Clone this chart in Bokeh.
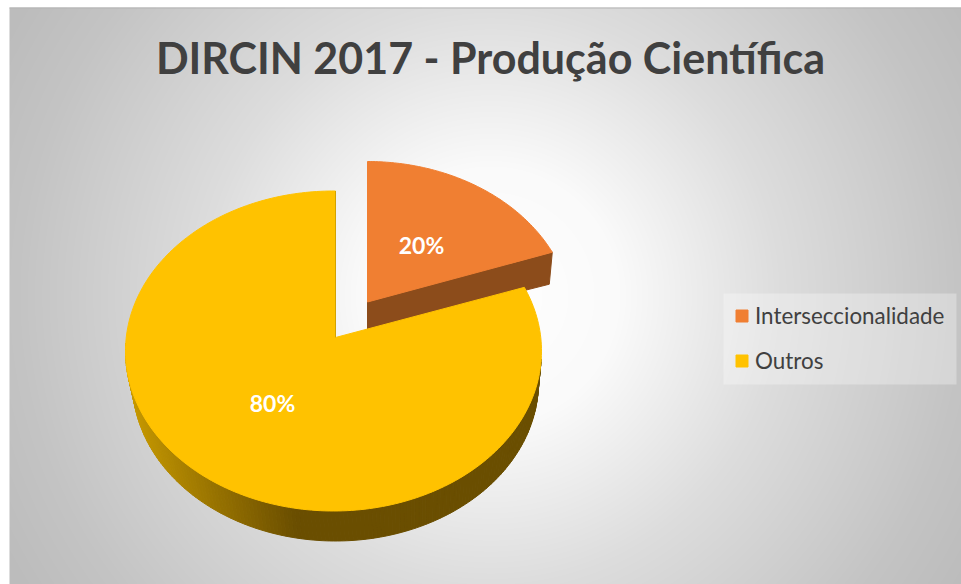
import numpy as np
from bokeh.plotting import figure
from bokeh.models import Range1d, Legend, LegendItem
from bokeh.core.properties import value
from bokeh.embed import file_html
from bokeh.resources import INLINE

title_text = "DIRCIN 2017 - Produção Científica"
categories = ["Interseccionalidade", "Outros"]
shares = [20, 80]
top_colors = ["#F07F32", "#FFC200"]
side_color_orange = "#8C4C1B"
side_light = np.array([200, 154, 0])
side_dark = np.array([106, 78, 0])

W, H = 961, 584


def sy(y):
    return H - np.asarray(y, dtype=float)


p = figure(width=W, height=H, x_range=Range1d(0, W), y_range=Range1d(0, H),
           x_axis_location=None, y_axis_location=None, toolbar_location=None,
           output_backend="svg", min_border=0, outline_line_color=None,
           background_fill_color="white", border_fill_color="white")
p.grid.visible = False

# radial background
gx0, gy0, gw, gh = 9, 7, 952, 577
xs = np.arange(gw) + gx0
ys = gy0 + gh - 1 - np.arange(gh)
XX, YY = np.meshgrid(xs, ys)
dist = np.hypot(XX - 490, YY - 295)
shade = np.interp(dist, [0, 130, 289, 471, 555], [255, 250, 221, 196, 188]).astype(np.uint32)
img = (255 << 24) | (shade << 16) | (shade << 8) | shade
p.image_rgba(image=[img.astype(np.uint32)], x=gx0, y=float(sy(gy0 + gh)), dw=gw, dh=gh)
p.line([gx0, gx0 + gw], [float(sy(7.5))] * 2, line_color="#b4b4b4", line_width=1)


def rim(t, apex, centre, a, b, bdir=170.0):
    """Point of the projected disc rim seen from the apex at pie angle t (clockwise from top)."""
    dx, dy = a * np.sin(t), -bdir * np.cos(t)
    ox, oy = (apex[0] - centre[0]) / a, (apex[1] - centre[1]) / b
    ux, uy = dx / a, dy / b
    A = ux ** 2 + uy ** 2
    B = 2 * (ox * ux + oy * uy)
    C = ox ** 2 + oy ** 2 - 1
    s = (-B + np.sqrt(B ** 2 - 4 * A * C)) / (2 * A)
    return apex[0] + s * dx, apex[1] + s * dy


fractions = np.array(shares) / sum(shares)
edges = np.concatenate([[0], np.cumsum(fractions)]) * 2 * np.pi

# geometry of the two exploded slices
o_apex, o_centre = (367.0, 301.5), (367.0, 321.0)
y_apex, y_centre = (335.0, 337.0), (333.0, 350.5)
RA, RB, DEPTH = 208.0, 160.0, 31.0
RA_ORANGE = 205.0

# yellow side wall, shaded in strips
ts = np.linspace(np.pi / 2 + 0.05, 3 * np.pi / 2 + 0.05, 161)
tx = y_centre[0] + RA * np.sin(ts)
ty = y_centre[1] - RB * np.cos(ts)
bx = y_centre[0] + 2 + (tx - y_centre[0]) * (RA - 5) / RA
by = y_centre[1] + DEPTH + (ty - y_centre[1]) * (RB - 1) / RB
sx, sy_, cols = [], [], []
for i in range(len(ts) - 1):
    sx.append([tx[i], tx[i + 1], bx[i + 1], bx[i]])
    sy_.append(list(sy([ty[i], ty[i + 1], by[i + 1], by[i]])))
    mx = (tx[i] + tx[i + 1]) / 2
    f = np.clip((mx - 125) / (295 - 125), 0, 1)
    c = (side_light * (1 - f) + side_dark * f).astype(int)
    cols.append("#%02x%02x%02x" % tuple(c))
p.patches(sx, sy_, fill_color=cols, line_color=cols, line_width=1)

# orange side wall
c1x, c1y = rim(edges[1], o_apex, o_centre, RA_ORANGE, RB)
p.patch([o_apex[0], c1x, c1x - 3, o_apex[0]],
        list(sy([o_apex[1], c1y, c1y + 32, o_apex[1] + 28])),
        fill_color=side_color_orange, line_color=side_color_orange)

# yellow top
t2 = np.linspace(edges[1], edges[2], 240)
yx, yy = rim(t2, y_apex, y_centre, RA, RB)
yellow = p.patch(np.r_[y_apex[0], yx], sy(np.r_[y_apex[1], yy]),
                 fill_color=top_colors[1], line_color=top_colors[1])
p.line([y_apex[0], yx[-1]], sy([y_apex[1], yy[-1]]), line_color="#D2A200", line_width=1)

# orange top
t1 = np.linspace(edges[0], edges[1], 80)
ox, oy = rim(t1, o_apex, o_centre, RA_ORANGE, RB)
orange = p.patch(np.r_[o_apex[0], ox], sy(np.r_[o_apex[1], oy]),
                 fill_color=top_colors[0], line_color=top_colors[0])

font = value("Lato")
p.text(x=[490], y=[sy(57)], text=[title_text], text_font=font, text_font_style="bold",
       text_font_size="43px", text_color="#404040", text_align="center", text_baseline="alphabetic")
p.text(x=[421, 272], y=[sy(244), sy(402)], text=[f"{v}%" for v in shares], text_font=font,
       text_font_style="bold", text_font_size="23px", text_color="white",
       text_align="center", text_baseline="alphabetic")

# legend backdrop
p.quad(left=[723], right=[956], top=[sy(293)], bottom=[sy(384)],
       fill_color="white", fill_alpha=0.3, line_color=None)

legend = Legend(items=[LegendItem(label=categories[0], renderers=[orange]),
                       LegendItem(label=categories[1], renderers=[yellow])],
                location=(734, 210), orientation="vertical",
                background_fill_alpha=0, border_line_color=None,
                padding=0, margin=0, spacing=18,
                glyph_width=15, glyph_height=15, label_standoff=6,
                label_text_font="Lato", label_text_font_size="22.4px", label_text_color="#404040")
p.add_layout(legend, "center")

open("out.html", "w").write(file_html(p, INLINE))
